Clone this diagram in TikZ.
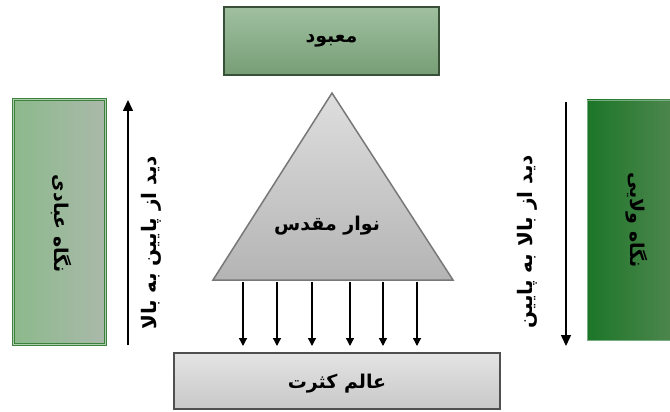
\documentclass[tikz,border=0pt]{standalone}
\usepackage{fontspec}
\TeXXeTstate=1
\newfontfamily\arabicfont[Script=Arabic]{DejaVu Sans}
\usetikzlibrary{arrows.meta}
\definecolor{topA}{RGB}{160,192,160}
\definecolor{topB}{RGB}{118,158,118}
\definecolor{topLine}{RGB}{55,80,55}
\definecolor{leftA}{RGB}{140,185,140}
\definecolor{leftB}{RGB}{170,185,170}
\definecolor{leftLine}{RGB}{60,130,60}
\definecolor{rightA}{RGB}{28,118,40}
\definecolor{rightB}{RGB}{80,135,80}
\definecolor{triA}{RGB}{222,222,222}
\definecolor{triB}{RGB}{180,180,180}
\definecolor{triLine}{RGB}{120,120,120}
\definecolor{botA}{RGB}{228,228,228}
\definecolor{botB}{RGB}{200,200,200}
\definecolor{botLine}{RGB}{80,80,80}
\tikzset{
  bigfont/.style={font=\arabicfont\bfseries\fontsize{19}{23}\selectfont},
  topbox/.style={bigfont, draw=topLine, line width=1.2pt, top color=topA, bottom color=topB, inner sep=0pt},
  leftbox/.style={draw=leftLine, line width=0.8pt, double=leftA!70!white, double distance=1.5pt, left color=leftA, right color=leftB, inner sep=0pt},
  rightbox/.style={draw=rightA!60!white, line width=0.6pt, left color=rightA, right color=rightB, inner sep=0pt},
  botbox/.style={draw=botLine, line width=1.2pt, top color=botA, bottom color=botB, inner sep=0pt},
  downarrow/.style={line width=1.3pt, -{Triangle[width=8pt,length=8pt]}},
  bigarrow/.style={line width=1.5pt, -{Triangle[width=10pt,length=11pt]}},
  sidelabel/.style={font=\arabicfont\bfseries\fontsize{20}{24}\selectfont, rotate=90},
  boxlabel/.style={font=\arabicfont\bfseries\fontsize{19}{23}\selectfont, rotate=-90}
}
\begin{document}
\begin{tikzpicture}[x=1pt,y=-1pt]
\useasboundingbox (0,0) rectangle (670,412);
\fill[white] (0,0) rectangle (670,412);

% top box
\node[topbox, minimum width=215pt, minimum height=68pt] (mabud) at (331.5,41) {\beginR معبود\endR};

% left box
\node[leftbox, minimum width=92pt, minimum height=245pt] (ebadi) at (59.5,222) {};
\node[boxlabel] (ebadiT) at (61,224) {\beginR نگاه عبادی\endR};

% right box
\node[rightbox, minimum width=90pt, minimum height=240pt] (velayi) at (632,220) {};
\node[boxlabel] (velayiT) at (637,220) {\beginR نگاه ولایی\endR};

% triangle
\coordinate (apex) at (332,93);
\coordinate (bl) at (213,280);
\coordinate (br) at (453,280);
\path[draw=triLine, line width=1.5pt, line join=miter, top color=triA, bottom color=triB] (apex) -- (br) -- (bl) -- cycle;
\node[bigfont] (navar) at (327,226) {\beginR نوار مقدس\endR};

% bottom box
\node[botbox, minimum width=326pt, minimum height=56pt] (kesrat) at (337,381) {};
\node[bigfont] (kesratT) at (337,384) {\beginR عالم کثرت\endR};

% down arrows
\foreach \i/\xx in {1/243,2/277,3/312,4/350,5/383,6/417}{
  \coordinate (s\i) at (\xx,282);
  \coordinate (e\i) at (\xx,346);
  \draw[downarrow] (s\i) -- (e\i);
}

% side arrows
\coordinate (lu0) at (128,345);
\coordinate (lu1) at (128,100);
\draw[bigarrow] (lu0) -- (lu1);
\node[sidelabel] (lab1) at (151,243) {\beginR دید از پایین به بالا\endR};

\coordinate (rd0) at (566,102);
\coordinate (rd1) at (566,346);
\draw[bigarrow] (rd0) -- (rd1);
\node[sidelabel] (lab2) at (527,242) {\beginR دید از بالا به پایین\endR};
\end{tikzpicture}
\end{document}
